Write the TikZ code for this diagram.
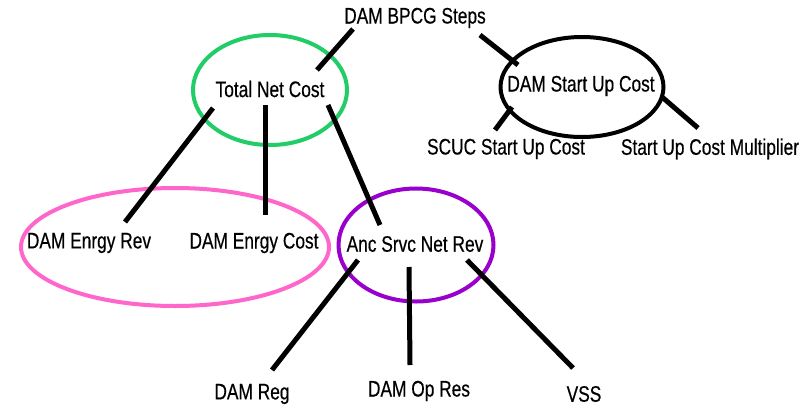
\documentclass[tikz,border=0pt]{standalone}
\usepackage{fontspec}
\setmainfont{Liberation Sans}[FakeStretch=0.77,FakeBold=0.4]
\usetikzlibrary{shapes.geometric}
\definecolor{ringgreen}{HTML}{22CC66}
\definecolor{ringpink}{HTML}{FF66CC}
\definecolor{ringpurple}{HTML}{9900CC}
\tikzset{
  lbl/.style={inner sep=0pt, font=\fontsize{22.5}{26}\selectfont},
  ring/.style={ellipse, draw, line width=4pt, inner sep=0pt},
  link/.style={line width=5pt},
}
\begin{document}
\begin{tikzpicture}[x=1pt,y=-1pt]
\useasboundingbox[fill=white] (0,0) rectangle (808,407);
% rings
\node[ring, draw=ringgreen, minimum width=154pt, minimum height=110pt] (g) at (270,90) {};
\node[ring, draw=black, minimum width=163pt, minimum height=100pt] (k) at (582,87) {};
\node[ring, draw=ringpink, minimum width=308pt, minimum height=118pt] (p) at (175,247) {};
\node[ring, draw=ringpurple, minimum width=155pt, minimum height=113pt] (v) at (416,245) {};
% labels
\node[lbl] (root) at (415,18) {DAM BPCG Steps};
\node[lbl] (tnc) at (270,89) {Total Net Cost};
\node[lbl] (dsc) at (581,86) {DAM Start Up Cost};
\node[lbl] (scuc) at (506,149) {SCUC Start Up Cost};
\node[lbl] (mult) at (710,149) {Start Up Cost Multiplier};
\node[lbl] (der) at (89,243) {DAM Enrgy Rev};
\node[lbl] (dec) at (254,243) {DAM Enrgy Cost};
\node[lbl] (anc) at (415,244) {Anc Srvc Net Rev};
\node[lbl] (reg) at (252,394) {DAM Reg};
\node[lbl] (opr) at (419,391) {DAM Op Res};
\node[lbl] (vss) at (584,394) {VSS};
% connector end points
\coordinate (r1) at (353,29);  \coordinate (t0) at (317,70);
\coordinate (r2) at (480,35);  \coordinate (s0) at (518,65);
\coordinate (s1) at (512,107); \coordinate (c0) at (495,130);
\coordinate (s2) at (662,97);  \coordinate (m0) at (698,128);
\coordinate (t1) at (213,108); \coordinate (e0) at (125,222);
\coordinate (t2) at (265,105); \coordinate (f0) at (265,215);
\coordinate (t3) at (328,105); \coordinate (a0) at (380,225);
\coordinate (a1) at (358,260); \coordinate (g0) at (272,370);
\coordinate (a2) at (409,267); \coordinate (o0) at (410,365);
\coordinate (a3) at (467,260); \coordinate (w0) at (573,368);
% connectors
\draw[link] (r1) -- (t0);
\draw[link] (r2) -- (s0);
\draw[link] (s1) -- (c0);
\draw[link] (s2) -- (m0);
\draw[link] (t1) -- (e0);
\draw[link] (t2) -- (f0);
\draw[link] (t3) -- (a0);
\draw[link] (a1) -- (g0);
\draw[link] (a2) -- (o0);
\draw[link] (a3) -- (w0);
\end{tikzpicture}
\end{document}
